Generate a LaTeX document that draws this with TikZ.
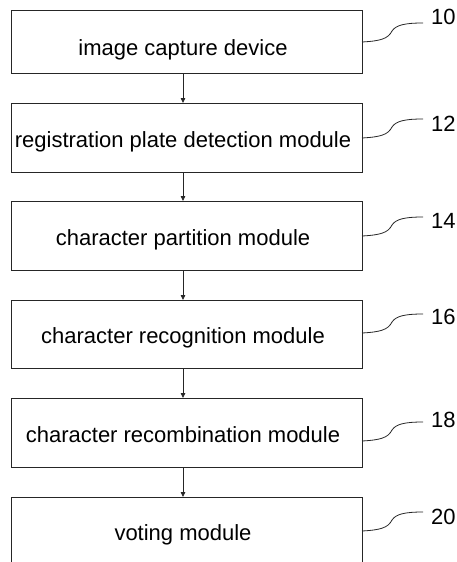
\documentclass[tikz,border=0pt]{standalone}
\usepackage{fontspec}
\setmainfont{Liberation Sans}
\usetikzlibrary{arrows.meta}
\begin{document}
\begin{tikzpicture}[x=1pt,y=-1pt,
  box/.style={draw=black!85, line width=0.9pt, minimum width=351pt, inner sep=0pt, anchor=north west},
  txt/.style={font=\fontsize{22}{26}\selectfont, anchor=base, inner sep=0pt},
  num/.style={font=\fontsize{22}{26}\selectfont, anchor=west, inner sep=0pt},
  arr/.style={draw=black!85, line width=0.8pt, -{Triangle[length=5pt,width=4.5pt]}},
  lead/.style={draw=black!85, line width=0.8pt}]
\useasboundingbox (0,0) rectangle (457,562);
\begin{scope}
\clip (0,0) rectangle (457,562);
\node[box, minimum height=63pt] (b1) at (11,10) {};
\node[box, minimum height=69pt] (b2) at (11,103) {};
\node[box, minimum height=69pt] (b3) at (11,201) {};
\node[box, minimum height=68pt] (b4) at (11,300) {};
\node[box, minimum height=69pt] (b5) at (11,398) {};
\node[box, minimum height=90pt] (b6) at (11,497) {};
\end{scope}

\node[txt] (t1) at (183,55) {image capture device};
\node[txt] (t2) at (183,147) {registration plate detection module};
\node[txt] (t3) at (183,245) {character partition module};
\node[txt] (t4) at (183,343) {character recognition module};
\node[txt] (t5) at (183,442) {character recombination module};
\node[txt] (t6) at (183,540) {voting module};

\coordinate (ax) at (183,0);
\draw[arr] (b1.south -| ax) -- (b2.north -| ax);
\draw[arr] (b2.south -| ax) -- (b3.north -| ax);
\draw[arr] (b3.south -| ax) -- (b4.north -| ax);
\draw[arr] (b4.south -| ax) -- (b5.north -| ax);
\draw[arr] (b5.south -| ax) -- (b6.north -| ax);

\foreach \c/\ly/\n in {42/16.5/10, 138/123.5/12, 236/220.5/14, 333/316.5/16, 441/419.5/18, 531/516.5/20} {
  \coordinate (p\n) at (362,\c);
  \draw[lead] (p\n) .. controls (380,{\c-1}) and (388,{\c-3}) .. (392,{\c-11})
                    .. controls (396,{\c-17}) and (405,{\c-19}) .. (423,{\c-19}) coordinate (q\n);
  \node[num] (l\n) at (431,\ly) {\n};
}
\end{tikzpicture}
\end{document}
